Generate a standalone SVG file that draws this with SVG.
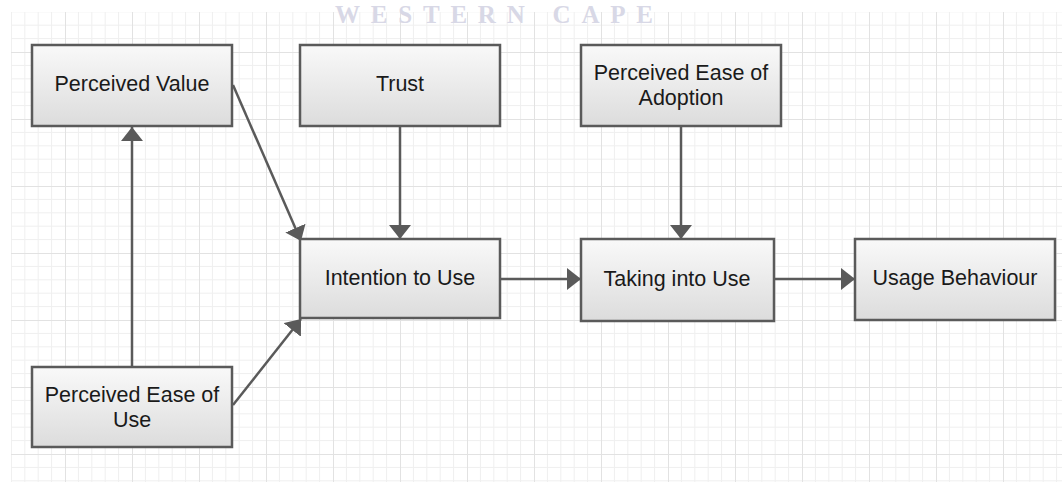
<svg xmlns="http://www.w3.org/2000/svg" width="1062" height="482" viewBox="0 0 1062 482">
<defs>
<pattern id="grid" patternUnits="userSpaceOnUse" x="65" y="52" width="67" height="67">
<g stroke="#efefef" stroke-width="1">
<line x1="13.4" y1="0" x2="13.4" y2="67"/><line x1="26.8" y1="0" x2="26.8" y2="67"/><line x1="40.2" y1="0" x2="40.2" y2="67"/><line x1="53.6" y1="0" x2="53.6" y2="67"/>
<line x1="0" y1="13.4" x2="67" y2="13.4"/><line x1="0" y1="26.8" x2="67" y2="26.8"/><line x1="0" y1="40.2" x2="67" y2="40.2"/><line x1="0" y1="53.6" x2="67" y2="53.6"/>
</g>
<g stroke="#e2e2e2" stroke-width="1">
<line x1="0.5" y1="0" x2="0.5" y2="67"/><line x1="0" y1="0.5" x2="67" y2="0.5"/>
</g>
</pattern>
<linearGradient id="boxfill" x1="0" y1="0" x2="0" y2="1">
<stop offset="0" stop-color="#f9f9f9"/>
<stop offset="1" stop-color="#dcdcdc"/>
</linearGradient>
<marker id="arr" viewBox="0 0 14 22" refX="14" refY="11" markerWidth="14" markerHeight="22" markerUnits="userSpaceOnUse" orient="auto">
<path d="M0,0 L14,11 L0,22 Z" fill="#5a5a5a"/>
</marker>
<style>
.box{fill:url(#boxfill);stroke:#5a5a5a;stroke-width:2.5}
.lbl{font-family:"Liberation Sans",Arial,sans-serif;font-size:21.5px;fill:#1a1a1a;text-anchor:middle}
.conn{stroke:#5a5a5a;stroke-width:2.5;fill:none;marker-end:url(#arr)}
</style>
</defs>
<rect x="0" y="0" width="1062" height="482" fill="#ffffff"/>
<rect x="11" y="12" width="1051" height="470" fill="url(#grid)"/>
<text x="335" y="23" textLength="318" lengthAdjust="spacing" font-family="'Liberation Serif','Times New Roman',serif" font-weight="bold" font-size="25" fill="#d8d8e6">WESTERN CAPE</text>

<g id="connectors">
<line class="conn" x1="132" y1="367" x2="132" y2="127"/>
<line class="conn" x1="233" y1="85" x2="301" y2="241"/>
<line class="conn" x1="233" y1="405" x2="301" y2="319"/>
<line class="conn" x1="400" y1="126" x2="400" y2="239"/>
<line class="conn" x1="681" y1="126" x2="681" y2="239"/>
<line class="conn" x1="500" y1="279" x2="581" y2="279"/>
<line class="conn" x1="774" y1="279" x2="855" y2="279"/>
</g>

<g id="perceived-value">
<rect class="box" x="32" y="45" width="200" height="81"/>
<text class="lbl" x="132" y="91">Perceived Value</text>
</g>
<g id="trust">
<rect class="box" x="300" y="45" width="200" height="81"/>
<text class="lbl" x="400" y="91">Trust</text>
</g>
<g id="perceived-ease-of-adoption">
<rect class="box" x="581" y="45" width="200" height="81"/>
<text class="lbl" x="681" y="80">Perceived Ease of</text>
<text class="lbl" x="681" y="105">Adoption</text>
</g>
<g id="intention-to-use">
<rect class="box" x="300" y="239" width="200" height="79"/>
<text class="lbl" x="400" y="285">Intention to Use</text>
</g>
<g id="taking-into-use">
<rect class="box" x="581" y="239" width="193" height="82"/>
<text class="lbl" x="677" y="286">Taking into Use</text>
</g>
<g id="usage-behaviour">
<rect class="box" x="855" y="239" width="200" height="81"/>
<text class="lbl" x="955" y="285">Usage Behaviour</text>
</g>
<g id="perceived-ease-of-use">
<rect class="box" x="32" y="367" width="200" height="80"/>
<text class="lbl" x="132" y="402">Perceived Ease of</text>
<text class="lbl" x="132" y="427">Use</text>
</g>
</svg>
